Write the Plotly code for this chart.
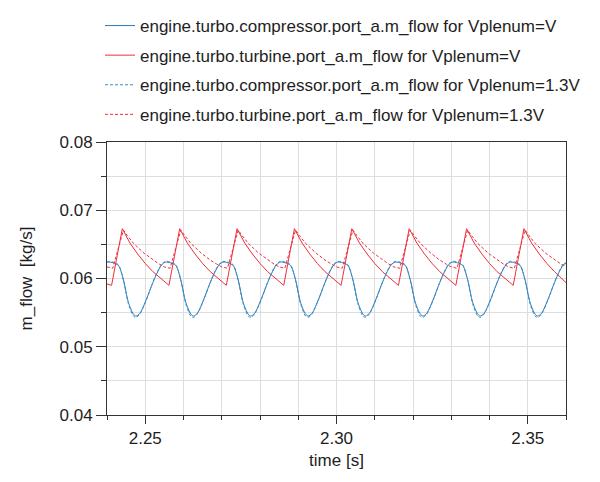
import plotly.graph_objects as go

# ---- data ----
t_red_solid = [2.240, 2.2412, 2.244, 2.245, 2.246, 2.248, 2.250, 2.252, 2.254, 2.255,
               2.2562, 2.259, 2.260, 2.261, 2.263, 2.265, 2.267, 2.269, 2.270,
               2.2712, 2.274, 2.275, 2.276, 2.278, 2.280, 2.282, 2.284, 2.285,
               2.2862, 2.289, 2.290, 2.291, 2.293, 2.295, 2.297, 2.299, 2.300,
               2.3012, 2.304, 2.305, 2.306, 2.308, 2.310, 2.312, 2.314, 2.315,
               2.3162, 2.319, 2.320, 2.321, 2.323, 2.325, 2.327, 2.329, 2.330,
               2.3312, 2.334, 2.335, 2.336, 2.338, 2.340, 2.342, 2.344, 2.345,
               2.3462, 2.349, 2.350, 2.351, 2.353, 2.355, 2.357, 2.359, 2.360]
turbine_V = [0.0592,
             0.0590, 0.0673, 0.0662, 0.0652, 0.0636, 0.0622, 0.0610, 0.0600, 0.0595,
             0.0590, 0.0673, 0.0662, 0.0652, 0.0636, 0.0622, 0.0610, 0.0600, 0.0595,
             0.0590, 0.0673, 0.0662, 0.0652, 0.0636, 0.0622, 0.0610, 0.0600, 0.0595,
             0.0590, 0.0673, 0.0662, 0.0652, 0.0636, 0.0622, 0.0610, 0.0600, 0.0595,
             0.0590, 0.0673, 0.0662, 0.0652, 0.0636, 0.0622, 0.0610, 0.0600, 0.0595,
             0.0590, 0.0673, 0.0662, 0.0652, 0.0636, 0.0622, 0.0610, 0.0600, 0.0595,
             0.0590, 0.0673, 0.0662, 0.0652, 0.0636, 0.0622, 0.0610, 0.0600, 0.0595,
             0.0590, 0.0673, 0.0662, 0.0652, 0.0636, 0.0622, 0.0610, 0.0600, 0.0594]

t_red_dash = [2.240,
              2.2415, 2.243, 2.2443, 2.2453, 2.247, 2.2497, 2.252, 2.2537, 2.255,
              2.2565, 2.258, 2.2593, 2.2603, 2.262, 2.2647, 2.267, 2.2687, 2.270,
              2.2715, 2.273, 2.2743, 2.2753, 2.277, 2.2797, 2.282, 2.2837, 2.285,
              2.2865, 2.288, 2.2893, 2.2903, 2.292, 2.2947, 2.297, 2.2987, 2.300,
              2.3015, 2.303, 2.3043, 2.3053, 2.307, 2.3097, 2.312, 2.3137, 2.315,
              2.3165, 2.318, 2.3193, 2.3203, 2.322, 2.3247, 2.327, 2.3287, 2.330,
              2.3315, 2.333, 2.3343, 2.3353, 2.337, 2.3397, 2.342, 2.3437, 2.345,
              2.3465, 2.348, 2.3493, 2.3503, 2.352, 2.3547, 2.357, 2.3587, 2.360]
turbine_13V = [0.0617,
               0.0615, 0.0645, 0.0671, 0.0663, 0.0651, 0.0637, 0.0627, 0.0621, 0.0617,
               0.0615, 0.0645, 0.0671, 0.0663, 0.0651, 0.0637, 0.0627, 0.0621, 0.0617,
               0.0615, 0.0645, 0.0671, 0.0663, 0.0651, 0.0637, 0.0627, 0.0621, 0.0617,
               0.0615, 0.0645, 0.0671, 0.0663, 0.0651, 0.0637, 0.0627, 0.0621, 0.0617,
               0.0615, 0.0645, 0.0671, 0.0663, 0.0651, 0.0637, 0.0627, 0.0621, 0.0617,
               0.0615, 0.0645, 0.0671, 0.0663, 0.0651, 0.0637, 0.0627, 0.0621, 0.0617,
               0.0615, 0.0645, 0.0671, 0.0663, 0.0651, 0.0637, 0.0627, 0.0621, 0.0617,
               0.0615, 0.0645, 0.0671, 0.0663, 0.0651, 0.0637, 0.0627, 0.0621, 0.0618]

t_blue = [2.240,
          2.2403, 2.2416, 2.2430, 2.2443, 2.2456, 2.2469, 2.2476, 2.2486, 2.2504, 2.2517, 2.2530, 2.2543,
          2.2553, 2.2566, 2.2580, 2.2593, 2.2606, 2.2619, 2.2626, 2.2636, 2.2654, 2.2667, 2.2680, 2.2693,
          2.2703, 2.2716, 2.2730, 2.2743, 2.2756, 2.2769, 2.2776, 2.2786, 2.2804, 2.2817, 2.2830, 2.2843,
          2.2853, 2.2866, 2.2880, 2.2893, 2.2906, 2.2919, 2.2926, 2.2936, 2.2954, 2.2967, 2.2980, 2.2993,
          2.3003, 2.3016, 2.3030, 2.3043, 2.3056, 2.3069, 2.3076, 2.3086, 2.3104, 2.3117, 2.3130, 2.3143,
          2.3153, 2.3166, 2.3180, 2.3193, 2.3206, 2.3219, 2.3226, 2.3236, 2.3254, 2.3267, 2.3280, 2.3293,
          2.3303, 2.3316, 2.3330, 2.3343, 2.3356, 2.3369, 2.3376, 2.3386, 2.3404, 2.3417, 2.3430, 2.3443,
          2.3453, 2.3466, 2.3480, 2.3493, 2.3506, 2.3519, 2.3526, 2.3536, 2.3554, 2.3567, 2.3580, 2.3593,
          2.360]
compressor_V = [0.0623,
                0.0624, 0.0623, 0.0619, 0.0598, 0.0565, 0.0548, 0.0545, 0.0549, 0.0571, 0.0590, 0.0607, 0.0620,
                0.0624, 0.0623, 0.0619, 0.0598, 0.0565, 0.0548, 0.0545, 0.0549, 0.0571, 0.0590, 0.0607, 0.0620,
                0.0624, 0.0623, 0.0619, 0.0598, 0.0565, 0.0548, 0.0545, 0.0549, 0.0571, 0.0590, 0.0607, 0.0620,
                0.0624, 0.0623, 0.0619, 0.0598, 0.0565, 0.0548, 0.0545, 0.0549, 0.0571, 0.0590, 0.0607, 0.0620,
                0.0624, 0.0623, 0.0619, 0.0598, 0.0565, 0.0548, 0.0545, 0.0549, 0.0571, 0.0590, 0.0607, 0.0620,
                0.0624, 0.0623, 0.0619, 0.0598, 0.0565, 0.0548, 0.0545, 0.0549, 0.0571, 0.0590, 0.0607, 0.0620,
                0.0624, 0.0623, 0.0619, 0.0598, 0.0565, 0.0548, 0.0545, 0.0549, 0.0571, 0.0590, 0.0607, 0.0620,
                0.0624, 0.0623, 0.0619, 0.0598, 0.0565, 0.0548, 0.0545, 0.0549, 0.0571, 0.0590, 0.0607, 0.0620,
                0.0622]
compressor_13V = [0.0624,
                  0.0625, 0.0624, 0.0620, 0.0597, 0.0563, 0.0545, 0.0543, 0.0548, 0.0570, 0.0590, 0.0608, 0.0621,
                  0.0625, 0.0624, 0.0620, 0.0597, 0.0563, 0.0545, 0.0543, 0.0548, 0.0570, 0.0590, 0.0608, 0.0621,
                  0.0625, 0.0624, 0.0620, 0.0597, 0.0563, 0.0545, 0.0543, 0.0548, 0.0570, 0.0590, 0.0608, 0.0621,
                  0.0625, 0.0624, 0.0620, 0.0597, 0.0563, 0.0545, 0.0543, 0.0548, 0.0570, 0.0590, 0.0608, 0.0621,
                  0.0625, 0.0624, 0.0620, 0.0597, 0.0563, 0.0545, 0.0543, 0.0548, 0.0570, 0.0590, 0.0608, 0.0621,
                  0.0625, 0.0624, 0.0620, 0.0597, 0.0563, 0.0545, 0.0543, 0.0548, 0.0570, 0.0590, 0.0608, 0.0621,
                  0.0625, 0.0624, 0.0620, 0.0597, 0.0563, 0.0545, 0.0543, 0.0548, 0.0570, 0.0590, 0.0608, 0.0621,
                  0.0625, 0.0624, 0.0620, 0.0597, 0.0563, 0.0545, 0.0543, 0.0548, 0.0570, 0.0590, 0.0608, 0.0621,
                  0.0623]

names = ["engine.turbo.compressor.port_a.m_flow for Vplenum=V",
         "engine.turbo.turbine.port_a.m_flow for Vplenum=V",
         "engine.turbo.compressor.port_a.m_flow for Vplenum=1.3V",
         "engine.turbo.turbine.port_a.m_flow for Vplenum=1.3V"]

x_major_ticks = [2.25, 2.30, 2.35]
x_minor_ticks = [2.24, 2.26, 2.27, 2.28, 2.29, 2.31, 2.32, 2.33, 2.34, 2.36]
y_major_ticks = [0.04, 0.05, 0.06, 0.07, 0.08]
y_minor_ticks = [0.045, 0.055, 0.065, 0.075]

BLUE = "#2a7ab8"
BLUE2 = "#3d8fc6"
RED = "#ee2f3a"

fig = go.Figure()
fig.add_trace(go.Scatter(x=t_blue, y=compressor_V, mode="lines", name=names[0], legendgroup="a",
                         line=dict(color=BLUE, width=1, shape="spline", smoothing=0.8)))
fig.add_trace(go.Scatter(x=t_red_solid, y=turbine_V, mode="lines", name=names[1], legendgroup="b",
                         line=dict(color=RED, width=1)))
fig.add_trace(go.Scatter(x=t_blue, y=compressor_13V, mode="lines", name=names[2], legendgroup="c",
                         line=dict(color=BLUE2, width=1, dash="3px,2px", shape="spline", smoothing=0.8)))
fig.add_trace(go.Scatter(x=t_red_dash, y=turbine_13V, mode="lines", name=names[3], legendgroup="d",
                         line=dict(color=RED, width=1, dash="3px,2px")))

FONT = "Liberation Sans, Arial, sans-serif"
TXT = "#1e1e1e"
GRID = "#dedede"
AX = "#333333"

fig.update_layout(
    width=600, height=482,
    margin=dict(l=107, r=34, t=142, b=67, autoexpand=False),
    paper_bgcolor="white", plot_bgcolor="white",
    font=dict(family=FONT, size=17, color=TXT),
    showlegend=True,
    legend=dict(x=-7/459, y=1 + 134/273,
                xanchor="left", yanchor="top", bgcolor="rgba(0,0,0,0)",
                font=dict(size=17, color=TXT), tracegroupgap=4.5,
                traceorder="grouped", itemwidth=30),
    xaxis=dict(range=[2.24, 2.36], tickmode="array", tickvals=x_major_ticks,
               ticktext=["%.2f" % v for v in x_major_ticks],
               ticks="outside", ticklen=8, tickcolor=AX, tickwidth=1,
               showline=True, mirror=True, linecolor=AX, linewidth=1,
               showgrid=True, gridcolor=GRID, gridwidth=1, zeroline=False,
               minor=dict(tickmode="array", tickvals=x_minor_ticks, ticks="outside",
                          ticklen=4, tickcolor=AX, showgrid=True, gridcolor=GRID),
               title=dict(text="time [s]", standoff=6, font=dict(size=17))),
    yaxis=dict(range=[0.04, 0.08], tickmode="array", tickvals=y_major_ticks,
               ticktext=["%.2f" % v for v in y_major_ticks],
               ticks="outside", ticklen=10, tickcolor=AX, tickwidth=1,
               showline=True, mirror=True, linecolor=AX, linewidth=1,
               showgrid=True, gridcolor=GRID, gridwidth=1, zeroline=False,
               minor=dict(tickmode="array", tickvals=y_minor_ticks, ticks="outside",
                          ticklen=5, tickcolor=AX, showgrid=True, gridcolor=GRID),
               title=dict(text="m_flow  [kg/s]", standoff=22, font=dict(size=17))),
)

fig.write_html("out.html")
